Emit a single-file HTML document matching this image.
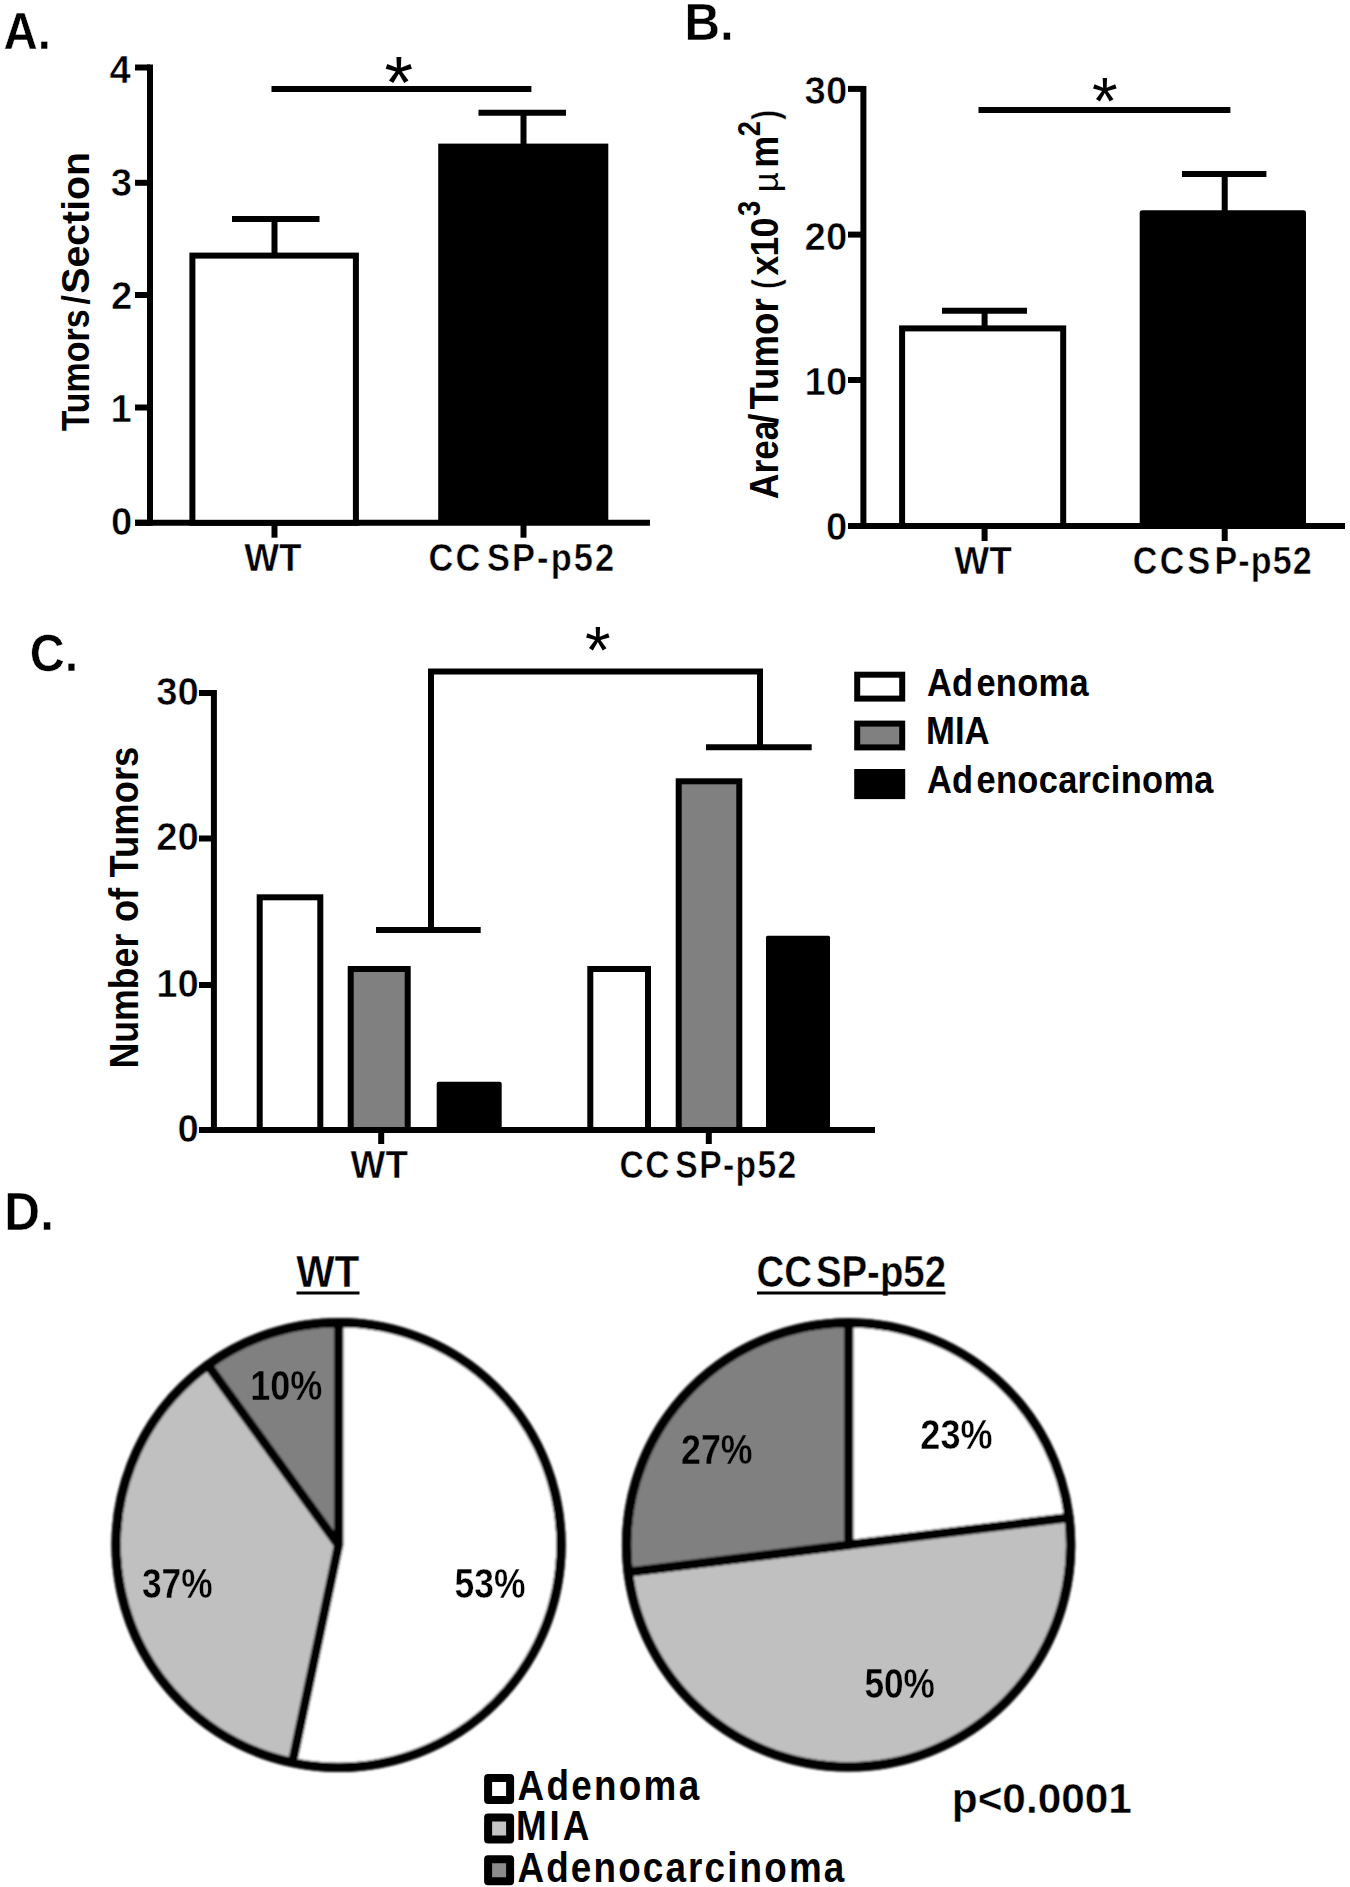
<!DOCTYPE html>
<html lang="en"><head><meta charset="utf-8"><title>Figure</title>
<style>
html,body{margin:0;padding:0;background:#fff;}
body{width:1350px;height:1887px;overflow:hidden;}
svg{display:block;}
svg text{font-family:"Liberation Sans", sans-serif;font-weight:bold;fill:#000;}
svg .r{font-weight:normal;}
</style></head><body>
<svg width="1350" height="1887" viewBox="0 0 1350 1887">
<rect width="1350" height="1887" fill="#fff"/>
<text transform="translate(3.52 49) scale(0.9055 1)" font-size="52.33" stroke="#fff" stroke-width="0.5">A.</text>
<line x1="150" y1="64.5" x2="150" y2="525.8" stroke="#000" stroke-width="6"/>
<line x1="135" y1="522.8" x2="650" y2="522.8" stroke="#000" stroke-width="6"/>
<line x1="135" y1="522.8" x2="150" y2="522.8" stroke="#000" stroke-width="6"/>
<text transform="translate(110.88 534.78) scale(1.0000 1)" font-size="38.3" stroke="#fff" stroke-width="0.6">0</text>
<line x1="135" y1="407.5" x2="150" y2="407.5" stroke="#000" stroke-width="6"/>
<text transform="translate(110.4 421.71) scale(1.0000 1)" font-size="38.3" stroke="#fff" stroke-width="0.6">1</text>
<line x1="135" y1="295" x2="150" y2="295" stroke="#000" stroke-width="6"/>
<text transform="translate(110.88 308.64) scale(1.0000 1)" font-size="38.3" stroke="#fff" stroke-width="0.6">2</text>
<line x1="135" y1="182.8" x2="150" y2="182.8" stroke="#000" stroke-width="6"/>
<text transform="translate(110.68 195.57) scale(1.0000 1)" font-size="38.3" stroke="#fff" stroke-width="0.6">3</text>
<line x1="135" y1="67.5" x2="150" y2="67.5" stroke="#000" stroke-width="6"/>
<text transform="translate(109.53 82.5) scale(1.0000 1)" font-size="38.3" stroke="#fff" stroke-width="0.6">4</text>
<rect x="192.4" y="255.6" width="163.5" height="267.2" fill="#fff" stroke="#000" stroke-width="6"/>
<rect x="438.2" y="143.6" width="170.1" height="379.2" fill="#000"/>
<line x1="274.5" y1="255" x2="274.5" y2="219" stroke="#000" stroke-width="6"/>
<line x1="232" y1="219" x2="319.5" y2="219" stroke="#000" stroke-width="6"/>
<line x1="523.5" y1="145" x2="523.5" y2="112.7" stroke="#000" stroke-width="6"/>
<line x1="478.5" y1="112.7" x2="566" y2="112.7" stroke="#000" stroke-width="6"/>
<line x1="274.5" y1="537.7" x2="274.5" y2="522.8" stroke="#000" stroke-width="6"/>
<line x1="523.5" y1="537.7" x2="523.5" y2="522.8" stroke="#000" stroke-width="6"/>
<line x1="271.5" y1="88.9" x2="531.4" y2="88.9" stroke="#000" stroke-width="6"/>
<text x="384.58" y="107.78" font-size="73.45" class="r">*</text>
<text transform="translate(244.31 571) scale(0.9650 1)" font-size="38.23" stroke="#fff" stroke-width="0.5">WT</text>
<text transform="translate(428.62 571) scale(0.9000 1)" font-size="38.23" stroke="#fff" stroke-width="0.5" letter-spacing="2.33">CC<tspan dx="5">SP-p52</tspan></text>
<text transform="translate(89 431.34) rotate(-90) scale(0.8587 1)" font-size="39.53">Tumors<tspan dx="5.82">/</tspan></text>
<text transform="translate(89 293.78) rotate(-90) scale(0.9938 1)" font-size="39.53">Section</text>
<text transform="translate(684.38 40) scale(0.9412 1)" font-size="52.33" stroke="#fff" stroke-width="0.5">B.</text>
<line x1="863.4" y1="85.9" x2="863.4" y2="529" stroke="#000" stroke-width="6"/>
<line x1="848" y1="526" x2="1345" y2="526" stroke="#000" stroke-width="6"/>
<line x1="848" y1="526" x2="863.4" y2="526" stroke="#000" stroke-width="6"/>
<text transform="translate(825.88 540.48) scale(1.0000 1)" font-size="38.3" stroke="#fff" stroke-width="0.6">0</text>
<line x1="848" y1="380" x2="863.4" y2="380" stroke="#000" stroke-width="6"/>
<text transform="translate(804.62 395.01) scale(1.0000 1)" font-size="38.3" stroke="#fff" stroke-width="0.6">10</text>
<line x1="848" y1="234.6" x2="863.4" y2="234.6" stroke="#000" stroke-width="6"/>
<text transform="translate(804.62 249.54) scale(1.0000 1)" font-size="38.3" stroke="#fff" stroke-width="0.6">20</text>
<line x1="848" y1="88.9" x2="863.4" y2="88.9" stroke="#000" stroke-width="6"/>
<text transform="translate(804.62 104.07) scale(1.0000 1)" font-size="38.3" stroke="#fff" stroke-width="0.6">30</text>
<rect x="902.1" y="328.4" width="161.1" height="197.6" fill="#fff" stroke="#000" stroke-width="6"/>
<rect x="1139.7" y="210.3" width="166.3" height="317.7" rx="2.5" fill="#000"/>
<line x1="984.6" y1="328" x2="984.6" y2="310.7" stroke="#000" stroke-width="6"/>
<line x1="942" y1="310.7" x2="1027" y2="310.7" stroke="#000" stroke-width="6"/>
<line x1="1224.7" y1="212" x2="1224.7" y2="174" stroke="#000" stroke-width="6"/>
<line x1="1182" y1="174" x2="1266.4" y2="174" stroke="#000" stroke-width="6"/>
<line x1="984.6" y1="541" x2="984.6" y2="526" stroke="#000" stroke-width="6"/>
<line x1="1224.7" y1="541" x2="1224.7" y2="526" stroke="#000" stroke-width="6"/>
<line x1="978.5" y1="110" x2="1230.4" y2="110" stroke="#000" stroke-width="6"/>
<text x="1092.07" y="123.87" font-size="65.82" class="r">*</text>
<text transform="translate(954.31 574) scale(0.9591 1)" font-size="38.66" stroke="#fff" stroke-width="0.5">WT</text>
<text transform="translate(1132.64 574) scale(0.8800 1)" font-size="38.66" stroke="#fff" stroke-width="0.5" letter-spacing="1.33">C<tspan dx="1.7">C</tspan><tspan dx="2.27">S</tspan><tspan dx="3.41">P-p52</tspan></text>
<text transform="translate(778.2 498.88) rotate(-90) scale(0.8738 1)" font-size="40.3">Area<tspan dx="-3.43">/</tspan></text>
<text transform="translate(778.2 409.57) rotate(-90) scale(0.9094 1)" font-size="40.3">Tumor</text>
<text transform="translate(778.2 288.98) rotate(-90) scale(0.8121 1)" font-size="36.5" stroke="#fff" stroke-width="0.4">(</text>
<text transform="translate(778.2 275.57) rotate(-90) scale(0.9000 1)" font-size="39.7" letter-spacing="-0.88">x10</text>
<text transform="translate(760.4 216.12) rotate(-90) scale(0.8678 1)" font-size="31.5">3</text>
<text transform="translate(777.8 192.34) rotate(-90) scale(1.0099 1)" font-size="34.3" class="r">µ</text>
<text transform="translate(778.2 167.74) rotate(-90) scale(0.8917 1)" font-size="40.3">m</text>
<text transform="translate(760.4 136.35) rotate(-90) scale(0.8598 1)" font-size="31.5">2</text>
<text transform="translate(778.2 119.87) rotate(-90) scale(0.7926 1)" font-size="36.5" stroke="#fff" stroke-width="0.4">)</text>
<text transform="translate(29.76 670.7) scale(0.9420 1)" font-size="51.5" stroke="#fff" stroke-width="0.5">C.</text>
<line x1="213.9" y1="690" x2="213.9" y2="1133" stroke="#000" stroke-width="6"/>
<line x1="199" y1="1130" x2="875" y2="1130" stroke="#000" stroke-width="6"/>
<line x1="199" y1="1130" x2="213.9" y2="1130" stroke="#000" stroke-width="6"/>
<text transform="translate(177.48 1141.58) scale(1.0000 1)" font-size="38.3" stroke="#fff" stroke-width="0.6">0</text>
<line x1="199" y1="985" x2="213.9" y2="985" stroke="#000" stroke-width="6"/>
<text transform="translate(156.22 996.58) scale(1.0000 1)" font-size="38.3" stroke="#fff" stroke-width="0.6">10</text>
<line x1="199" y1="838.5" x2="213.9" y2="838.5" stroke="#000" stroke-width="6"/>
<text transform="translate(156.22 850.08) scale(1.0000 1)" font-size="38.3" stroke="#fff" stroke-width="0.6">20</text>
<line x1="199" y1="693" x2="213.9" y2="693" stroke="#000" stroke-width="6"/>
<text transform="translate(156.22 704.58) scale(1.0000 1)" font-size="38.3" stroke="#fff" stroke-width="0.6">30</text>
<rect x="259.7" y="897.3" width="60.6" height="232.7" fill="#fff" stroke="#000" stroke-width="6"/>
<rect x="350.7" y="969" width="57" height="161" fill="#808080" stroke="#000" stroke-width="6"/>
<rect x="436.7" y="1081.7" width="65" height="50.3" rx="2" fill="#000"/>
<rect x="590.3" y="969" width="57.7" height="161" fill="#fff" stroke="#000" stroke-width="6"/>
<rect x="678.7" y="781.3" width="60.6" height="348.7" fill="#808080" stroke="#000" stroke-width="6"/>
<rect x="766" y="935.7" width="64" height="196.3" rx="1.5" fill="#000"/>
<line x1="381.2" y1="1144" x2="381.2" y2="1130" stroke="#000" stroke-width="6"/>
<line x1="708.8" y1="1144" x2="708.8" y2="1130" stroke="#000" stroke-width="6"/>
<polyline points="431,930 431,671.5 760,671.5 760,747.3" fill="none" stroke="#000" stroke-width="6"/>
<line x1="376" y1="930" x2="480.7" y2="930" stroke="#000" stroke-width="6"/>
<line x1="706" y1="747.3" x2="811.7" y2="747.3" stroke="#000" stroke-width="6"/>
<text x="585.07" y="673.17" font-size="65.82" class="r">*</text>
<text transform="translate(350.61 1178.2) scale(0.9650 1)" font-size="38.23" stroke="#fff" stroke-width="0.5">WT</text>
<text transform="translate(619.55 1178.2) scale(0.8800 1)" font-size="38.23" stroke="#fff" stroke-width="0.5" letter-spacing="1.55">CC<tspan dx="5.11">SP-p52</tspan></text>
<text transform="translate(138.2 1068.61) rotate(-90) scale(0.8865 1)" font-size="40.3">Number</text>
<text transform="translate(138.2 922.05) rotate(-90) scale(0.8993 1)" font-size="40.3">of</text>
<text transform="translate(138.2 877.46) rotate(-90) scale(0.9036 1)" font-size="40.3">Tumors</text>
<rect x="857.2" y="674.7" width="45" height="23.9" fill="#fff" stroke="#000" stroke-width="6"/>
<rect x="857.2" y="723.6" width="45" height="23.8" fill="#808080" stroke="#000" stroke-width="6"/>
<rect x="854.2" y="769" width="51" height="30.1" fill="#000"/>
<text transform="translate(926.94 695.7) scale(0.9000 1)" font-size="38.23" letter-spacing="0.35">Ad<tspan dx="3.33">enoma</tspan></text>
<text transform="translate(926.06 744.3) scale(0.9064 1)" font-size="38.23">MIA</text>
<text transform="translate(926.94 792.6) scale(0.9000 1)" font-size="38.23" letter-spacing="0.38">Ad<tspan dx="3.33">enocarcinoma</tspan></text>
<text transform="translate(4.35 1230.3) scale(0.9400 1)" font-size="52.76" stroke="#fff" stroke-width="0.5">D.</text>
<defs><filter id="soft" x="-5%" y="-5%" width="110%" height="110%"><feGaussianBlur stdDeviation="0.9"/></filter><filter id="soft2" x="-10%" y="-20%" width="120%" height="140%"><feGaussianBlur stdDeviation="0.7"/></filter></defs>
<g filter="url(#soft)">
<path d="M338.6 1545 L338.60 1322.60 A222.4 222.4 0 1 1 292.36 1762.54 Z" fill="#fff" stroke="#000" stroke-width="9.3" stroke-linejoin="round"/>
<path d="M338.6 1545 L292.36 1762.54 A222.4 222.4 0 0 1 207.88 1365.07 Z" fill="#c0c0c0" stroke="#000" stroke-width="9.3" stroke-linejoin="round"/>
<path d="M338.6 1545 L207.88 1365.07 A222.4 222.4 0 0 1 338.60 1322.60 Z" fill="#808080" stroke="#000" stroke-width="9.3" stroke-linejoin="round"/>
<circle cx="338.6" cy="1545" r="222.4" fill="none" stroke="#000" stroke-width="9.3"/>
<path d="M848.6 1544.9 L848.60 1322.90 A222 222 0 0 1 1068.92 1517.63 Z" fill="#fff" stroke="#000" stroke-width="9.3" stroke-linejoin="round"/>
<path d="M848.6 1544.9 L1068.92 1517.63 A222 222 0 0 1 628.28 1572.17 Z" fill="#c0c0c0" stroke="#000" stroke-width="9.3" stroke-linejoin="round"/>
<path d="M848.6 1544.9 L628.28 1572.17 A222 222 0 0 1 848.60 1322.90 Z" fill="#808080" stroke="#000" stroke-width="9.3" stroke-linejoin="round"/>
<circle cx="848.6" cy="1544.9" r="222" fill="none" stroke="#000" stroke-width="9.3"/>
</g>
<text transform="translate(296.2 1287.3) scale(0.9322 1)" font-size="43.6" stroke="#fff" stroke-width="0.4">WT</text>
<line x1="296.5" y1="1293" x2="359.5" y2="1293" stroke="#000" stroke-width="3"/>
<text transform="translate(756.47 1287.3) scale(0.8800 1)" font-size="43.6" stroke="#fff" stroke-width="0.45" letter-spacing="0.02">CC<tspan dx="4.55">SP-p52</tspan></text>
<line x1="757" y1="1293" x2="945.5" y2="1293" stroke="#000" stroke-width="3"/>
<g filter="url(#soft2)">
<text transform="translate(250.25 1400) scale(0.8529 1)" font-size="42.3" stroke="#808080" stroke-width="0.4">10%</text>
<text transform="translate(141.9 1597.8) scale(0.8354 1)" font-size="42.3" stroke="#c0c0c0" stroke-width="0.4">37%</text>
<text transform="translate(454.44 1597.8) scale(0.8387 1)" font-size="42.3" stroke="#fff" stroke-width="0.4">53%</text>
<text transform="translate(681.05 1464) scale(0.8457 1)" font-size="42.3" stroke="#808080" stroke-width="0.4">27%</text>
<text transform="translate(920.34 1449) scale(0.8530 1)" font-size="42.3" stroke="#fff" stroke-width="0.4">23%</text>
<text transform="translate(864.44 1697.9) scale(0.8326 1)" font-size="42.3" stroke="#c0c0c0" stroke-width="0.4">50%</text>
</g>
<text transform="translate(951.75 1812.8) scale(1.0090 1)" font-size="42" stroke="#fff" stroke-width="0.4">p&lt;0.0001</text>
<rect x="488.1" y="1778.1" width="22" height="22" fill="#fff" stroke="#000" stroke-width="8" stroke-linejoin="round"/>
<rect x="488.1" y="1817.6" width="22" height="22" fill="#c4c4c4" stroke="#000" stroke-width="8" stroke-linejoin="round"/>
<rect x="488.1" y="1859.2" width="22" height="22" fill="#8c8c8c" stroke="#000" stroke-width="8" stroke-linejoin="round"/>
<text transform="translate(517.48 1800) scale(0.8850 1)" font-size="41.6" letter-spacing="2.63">Adenoma</text>
<text transform="translate(515.91 1840) scale(0.8850 1)" font-size="41.6" letter-spacing="3.35">MIA</text>
<text transform="translate(517.48 1881.6) scale(0.8850 1)" font-size="41.6" letter-spacing="2.45">Adenocarcinoma</text>
</svg>
</body></html>
